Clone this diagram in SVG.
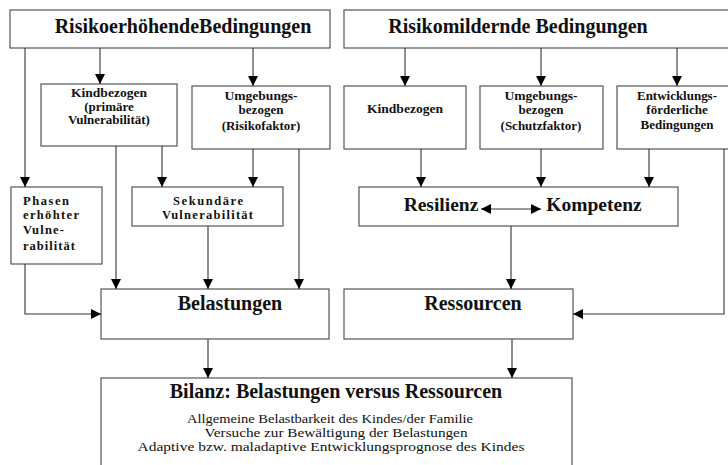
<svg xmlns="http://www.w3.org/2000/svg" width="728" height="465" viewBox="0 0 728 465">
<style>
.box{fill:#fff;stroke:#555;stroke-width:1.2}
.c{fill:none;stroke:#333;stroke-width:1.1}
.t{font-family:"Liberation Serif","Times New Roman",serif;font-weight:bold;fill:#111;text-anchor:middle}
.s{font-family:"Liberation Serif","Times New Roman",serif;fill:#111;text-anchor:middle;font-size:13.5px}
.h{font-size:20px}
.m{font-size:19.5px}
.k{font-size:13px}
.p{font-family:"Liberation Serif","Times New Roman",serif;font-weight:bold;fill:#111;font-size:12.5px}
</style>
<defs>
<marker id="a" markerUnits="userSpaceOnUse" markerWidth="10" markerHeight="10" refX="10" refY="5" orient="auto">
<path d="M0,0 L10,5 L0,10 z" fill="#000"/>
</marker>
<marker id="b" markerUnits="userSpaceOnUse" markerWidth="10" markerHeight="10" refX="0" refY="5" orient="auto">
<path d="M10,0 L0,5 L10,10 z" fill="#000"/>
</marker>
</defs>
<rect width="728" height="465" fill="#fff"/>
<g id="risk-title">
<rect class="box" x="10" y="10" width="320" height="38"/>
<text class="t h" x="183" y="33">RisikoerhöhendeBedingungen</text>
</g>
<g id="protect-title">
<rect class="box" x="344" y="10" width="390" height="38"/>
<text class="t h" x="518" y="33">Risikomildernde Bedingungen</text>
</g>
<g id="kind-risk">
<rect class="box" x="41" y="84" width="136" height="62"/>
<text class="t k" x="109" y="97" textLength="76" lengthAdjust="spacingAndGlyphs">Kindbezogen</text>
<text class="t k" x="109" y="110.5">(primäre</text>
<text class="t k" x="109" y="124">Vulnerabilität)</text>
</g>
<g id="umgebung-risk">
<rect class="box" x="192" y="86" width="138" height="63"/>
<text class="t k" x="261" y="100" textLength="73" lengthAdjust="spacingAndGlyphs">Umgebungs-</text>
<text class="t k" x="261" y="114">bezogen</text>
<text class="t k" x="261" y="129.5">(Risikofaktor)</text>
</g>
<g id="phasen">
<rect class="box" x="11" y="187" width="91" height="77"/>
<text class="p" x="23" y="205" textLength="46" lengthAdjust="spacing">Phasen</text>
<text class="p" x="23" y="219" textLength="56" lengthAdjust="spacing">erhöhter</text>
<text class="p" x="23" y="234" textLength="41" lengthAdjust="spacing">Vulne-</text>
<text class="p" x="23" y="250" textLength="52" lengthAdjust="spacing">rabilität</text>
</g>
<g id="sekundaer">
<rect class="box" x="132" y="187" width="151" height="39"/>
<text class="p" x="173" y="205" textLength="70" lengthAdjust="spacing">Sekundäre</text>
<text class="p" x="162" y="219" textLength="91" lengthAdjust="spacing">Vulnerabilität</text>
</g>
<g id="belastungen">
<rect class="box" x="101" y="289" width="228" height="50"/>
<text class="t h" x="230" y="310">Belastungen</text>
</g>
<g id="kind-protect">
<rect class="box" x="344" y="86" width="122" height="63"/>
<text class="t k" x="405" y="113" textLength="76" lengthAdjust="spacingAndGlyphs">Kindbezogen</text>
</g>
<g id="umgebung-protect">
<rect class="box" x="480" y="86" width="123" height="63"/>
<text class="t k" x="541" y="100" textLength="73" lengthAdjust="spacingAndGlyphs">Umgebungs-</text>
<text class="t k" x="541" y="114">bezogen</text>
<text class="t k" x="541" y="129.5">(Schutzfaktor)</text>
</g>
<g id="entwicklung">
<rect class="box" x="617" y="86" width="120" height="63"/>
<text class="t k" x="677" y="100" textLength="80" lengthAdjust="spacingAndGlyphs">Entwicklungs-</text>
<text class="t k" x="677" y="114">förderliche</text>
<text class="t k" x="677" y="129">Bedingungen</text>
</g>
<g id="resilienz-kompetenz">
<rect class="box" x="359" y="187" width="319" height="39"/>
<text class="t m" x="441" y="211">Resilienz</text>
<text class="t m" x="594" y="211">Kompetenz</text>
</g>
<g id="ressourcen">
<rect class="box" x="344" y="289" width="229" height="50"/>
<text class="t h" x="473" y="310">Ressourcen</text>
</g>
<g id="bilanz">
<rect class="box" x="101" y="378" width="471" height="100"/>
<text class="t h" x="336" y="398">Bilanz: Belastungen versus Ressourcen</text>
<text class="s" x="330" y="423" textLength="286" lengthAdjust="spacingAndGlyphs">Allgemeine Belastbarkeit des Kindes/der Familie</text>
<text class="s" x="336" y="437" textLength="263" lengthAdjust="spacingAndGlyphs">Versuche zur Bewältigung der Belastungen</text>
<text class="s" x="331" y="451" textLength="387" lengthAdjust="spacingAndGlyphs">Adaptive bzw. maladaptive Entwicklungsprognose des Kindes</text>
</g>
<g id="connectors">
<path class="c" marker-end="url(#a)" d="M100,48 V84"/>
<path class="c" marker-end="url(#a)" d="M253,48 V86"/>
<path class="c" marker-end="url(#a)" d="M25,48 V187"/>
<path class="c" marker-end="url(#a)" d="M116,146 V289"/>
<path class="c" marker-end="url(#a)" d="M162,146 V187"/>
<path class="c" marker-end="url(#a)" d="M253,149 V187"/>
<path class="c" marker-end="url(#a)" d="M299,149 V289"/>
<path class="c" marker-end="url(#a)" d="M208,226 V289"/>
<path class="c" marker-end="url(#a)" d="M25,264 V314 H101"/>
<path class="c" marker-end="url(#a)" d="M208,339 V378"/>
<path class="c" marker-end="url(#a)" d="M405,48 V86"/>
<path class="c" marker-end="url(#a)" d="M541,48 V86"/>
<path class="c" marker-end="url(#a)" d="M677,48 V86"/>
<path class="c" marker-end="url(#a)" d="M421,149 V187"/>
<path class="c" marker-end="url(#a)" d="M541,149 V187"/>
<path class="c" marker-end="url(#a)" d="M649,149 V187"/>
<path class="c" marker-end="url(#a)" d="M724,149 V314 H573"/>
<path class="c" marker-end="url(#a)" d="M511,226 V289"/>
<path class="c" marker-start="url(#b)" marker-end="url(#a)" d="M481,209 H541"/>
<path class="c" marker-end="url(#a)" d="M512,339 V378"/>
</g>
</svg>
